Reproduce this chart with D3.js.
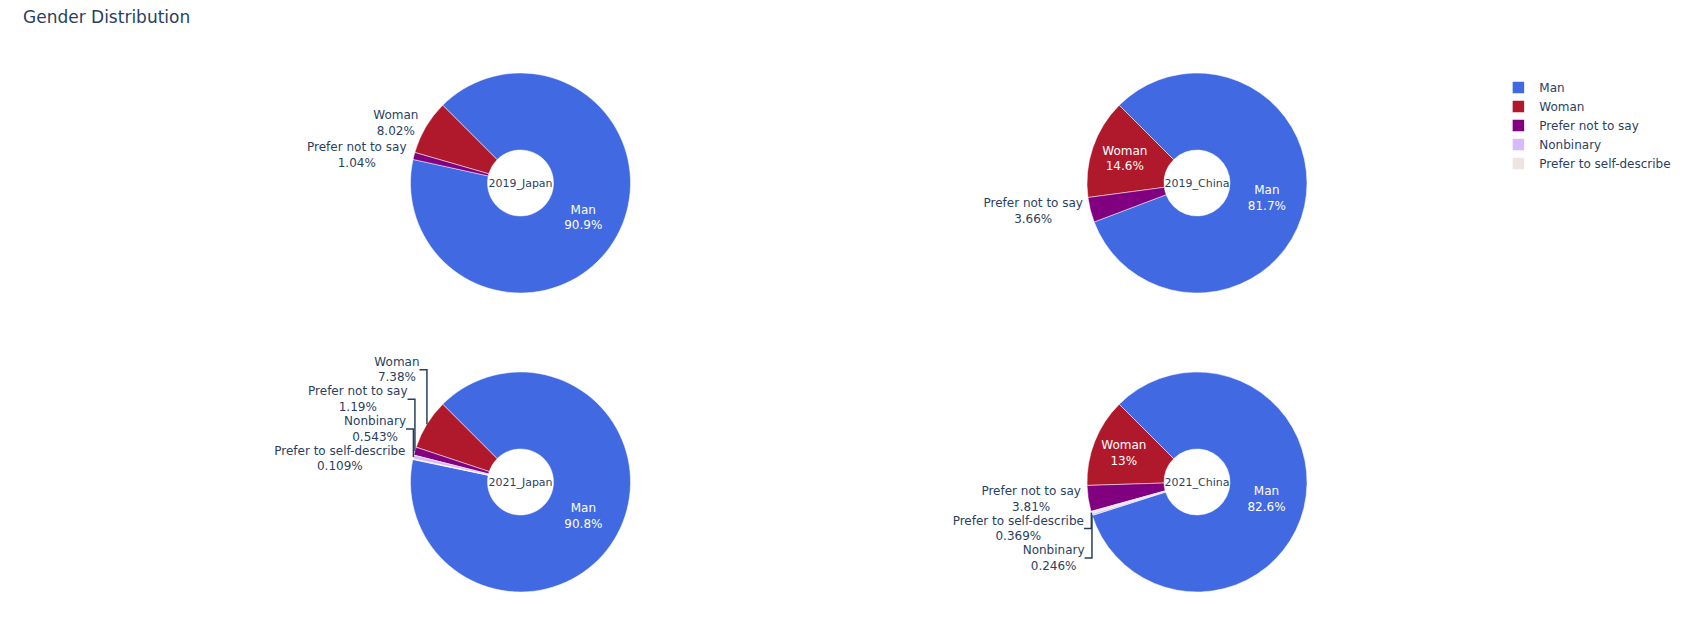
<!DOCTYPE html>
<html><head><meta charset="utf-8">
<script src="https://cdn.jsdelivr.net/npm/d3@7"></script>
<style>
html,body{margin:0;padding:0;background:#fff;}
svg{display:block;font-family:"DejaVu Sans",Verdana,sans-serif;}
</style></head><body>
<svg id="chart" width="1693" height="631"></svg>
<script>
// ---------- data ----------
const chartTitle = "Gender Distribution";
const categories = ["Man", "Woman", "Prefer not to say", "Nonbinary", "Prefer to self-describe"];
const panelNames = ["2019_Japan", "2019_China", "2021_Japan", "2021_China"];
const japan2019 = [90.9, 8.02, 1.04, null, null];
const china2019 = [81.7, 14.6, 3.66, null, null];
const japan2021 = [90.8, 7.38, 1.19, 0.543, 0.109];
const china2021 = [82.6, 13.0, 3.81, 0.246, 0.369];
const panelValues = [japan2019, china2019, japan2021, china2021];
const colors = ["#4169e1", "#b0182c", "#800080", "#d6b9fe", "#efe4e1"];

// ---------- layout ----------
const W = 1693, H = 631;
const textColor = "#2a3f5f";
const fontSize = 12;
const annFontSize = 11;
const outerR = 110, holeFrac = 0.3;
const rotation = -45 * Math.PI / 180;
const colScale = d3.scalePoint().domain([0, 1]).range([520.5, 1197]);
const rowScale = d3.scalePoint().domain([0, 1]).range([183, 482]);
const pctFmt = d3.format(".3~r");

const svg = d3.select("#chart");

svg.append("text")
  .attr("x", 23).attr("y", 23)
  .attr("font-size", 17).attr("fill", textColor)
  .text(chartTitle);

// helper: multi-line centered text
function makeText(parent, lines, fill, size) {
  const t = parent.append("text")
    .attr("text-anchor", "middle")
    .attr("font-size", size || fontSize)
    .attr("fill", fill);
  lines.forEach((ln, i) => {
    t.append("tspan").attr("x", 0).attr("dy", i === 0 ? 0 : "1.3em").text(ln);
  });
  return t;
}
function centerAt(t, x, y) {
  const bb = t.node().getBBox();
  t.attr("transform", `translate(${x - (bb.x + bb.width / 2)},${y - (bb.y + bb.height / 2)})`);
}

panelValues.forEach((vals, pi) => {
  const cx = colScale(pi % 2), cy = rowScale(Math.floor(pi / 2));
  const g = svg.append("g");
  const data = categories.map((c, k) => ({ label: c, v: vals[k], color: colors[k] }))
    .filter(d => d.v != null && d.v > 0);
  data.sort((a, b) => b.v - a.v);
  const total = d3.sum(data, d => d.v);
  const ang = d3.scaleLinear().domain([0, total]).range([0, 2 * Math.PI]);

  let cum = 0;
  data.forEach((d, i) => {
    const a = ang(d.v);
    if (i === 0) { d.start = rotation; d.end = rotation + a; }
    else { d.end = rotation - cum; d.start = d.end - a; cum += a; }
    d.mid = (d.start + d.end) / 2;
    d.pxmid = [outerR * Math.sin(d.mid), -outerR * Math.cos(d.mid)];
    d.halfangle = Math.PI * Math.min(d.v / total, 0.5);
  });

  const arc = d3.arc().innerRadius(outerR * holeFrac).outerRadius(outerR);
  g.selectAll("path.slice").data(data).join("path")
    .attr("class", "slice")
    .attr("transform", `translate(${cx},${cy})`)
    .attr("d", d => arc({ startAngle: d.start, endAngle: d.end }))
    .attr("fill", d => d.color)
    .attr("stroke", "#fff").attr("stroke-width", 0.5);

  const ring = 1 - holeFrac;
  const outside = [];
  data.forEach(d => {
    const lines = [d.label, pctFmt(d.v / total * 100) + "%"];
    const t = makeText(g, lines, "#fff");
    const bb = t.node().getBBox();
    const rIns = Math.min(1 / (1 + 1 / Math.sin(d.halfangle)), ring / 2);
    const diag = Math.sqrt(bb.width * bb.width + bb.height * bb.height);
    const scale = rIns * outerR * 2 / diag;
    if (scale >= 1) {
      centerAt(t, cx + d.pxmid[0] * (1 - rIns), cy + d.pxmid[1] * (1 - rIns));
    } else {
      t.attr("fill", textColor);
      const x = d.pxmid[0], y = d.pxmid[1];
      let dx = bb.width / 2, dy = bb.height / 2;
      if (x < 0) dx *= -1;
      if (y < 0) dy *= -1;
      const tx = dx + Math.abs(dy) * (dx > 0 ? 1 : -1) / 2;
      const ty = dy / (1 + x * x / (y * y));
      d.textEl = t;
      d.lx = cx + x + tx;
      d.yLabelMid = cy + y + ty;
      d.yLabelMin = d.yLabelMid - bb.height / 2;
      d.yLabelMax = d.yLabelMid + bb.height / 2;
      d.labelExtraY = 0;
      outside.push(d);
    }
  });

  // scoot labels (plotly-like)
  const quads = [[[], []], [[], []]];
  outside.forEach(d => quads[d.pxmid[1] < 0 ? 0 : 1][d.pxmid[0] < 0 ? 0 : 1].push(d));
  for (let yHalf = 0; yHalf < 2; yHalf++) {
    const eqFirst = yHalf ? (a, b) => a.pxmid[1] - b.pxmid[1] : (a, b) => b.pxmid[1] - a.pxmid[1];
    const ySign = yHalf ? 1 : -1;
    for (let xHalf = 0; xHalf < 2; xHalf++) {
      const q = quads[yHalf][xHalf];
      q.sort(eqFirst);
      const opp = quads[1 - yHalf][xHalf];
      const firstOpp = yHalf && opp.length ? opp[0] : null;
      q.forEach((d, i) => {
        let prev = i ? q[i - 1] : null;
        if (firstOpp && !i) prev = firstOpp;
        if (!prev) return;
        const prevOuter = prev.labelExtraY + (yHalf ? prev.yLabelMax : prev.yLabelMin);
        const thisInner = yHalf ? d.yLabelMin : d.yLabelMax;
        const ny = prevOuter - thisInner;
        if (ny * ySign > 0) d.labelExtraY = ny;
      });
    }
  }

  outside.forEach(d => {
    centerAt(d.textEl, d.lx, d.yLabelMid + d.labelExtraY);
    if (d.labelExtraY) {
      const sx = cx + d.pxmid[0], sy = cy + d.pxmid[1];
      const finalX = (d.yLabelMax - d.yLabelMin) * (d.pxmid[0] < 0 ? -1 : 1) / 4;
      g.append("path")
        .attr("d", `M${sx},${sy}V${d.yLabelMid + d.labelExtraY}h${finalX}`)
        .attr("fill", "none")
        .attr("stroke", textColor)
        .attr("stroke-width", Math.min(2, fontSize / 8));
    }
  });

  // hole annotation
  const ann = makeText(g, [panelNames[pi]], textColor, annFontSize);
  centerAt(ann, cx, cy);
});

// ---------- legend ----------
const legY = d3.scalePoint().domain(d3.range(categories.length)).range([87.5, 163.5]);
const leg = svg.append("g");
categories.forEach((c, k) => {
  const y = legY(k);
  leg.append("rect")
    .attr("x", 1512.3).attr("y", y - 6).attr("width", 12).attr("height", 12)
    .attr("fill", colors[k]).attr("stroke", "#fff").attr("stroke-width", 0.5);
  leg.append("text")
    .attr("x", 1539.3).attr("y", y + 4.3)
    .attr("font-size", fontSize).attr("fill", textColor)
    .text(c);
});
</script>
</body></html>
